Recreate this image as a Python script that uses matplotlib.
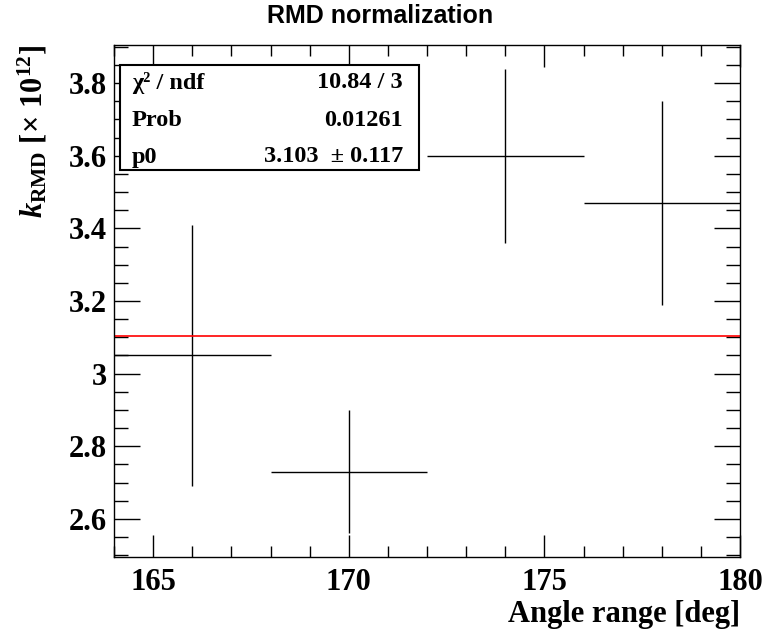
import matplotlib
matplotlib.use("Agg")
import matplotlib.pyplot as plt
from matplotlib.ticker import MultipleLocator

# data
angle = [166, 170, 174, 178]
angle_err = [2, 2, 2, 2]
k_rmd = [3.05, 2.73, 3.60, 3.47]
k_rmd_err = [0.36, 0.17, 0.24, 0.28]

fit_p0 = 3.103
fit_p0_err = 0.117
chi2_ndf = "10.84 / 3"
fit_prob = "0.01261"

x_range = (164, 180)
y_range = (2.495, 3.905)

plt.rcParams['mathtext.fontset'] = 'custom'
plt.rcParams['mathtext.rm'] = 'Liberation Serif:bold'
plt.rcParams['mathtext.it'] = 'Liberation Serif:italic:bold'
plt.rcParams['mathtext.bf'] = 'Liberation Serif:bold'

serif = 'Liberation Serif'

fig = plt.figure(figsize=(7.65, 6.3), dpi=100)
ax = fig.add_axes([114 / 765, 1 - 557 / 630, (740 - 114) / 765, (557 - 45) / 630])

ax.errorbar(angle, k_rmd, xerr=angle_err, yerr=k_rmd_err, fmt='none',
            ecolor='black', elinewidth=1.0, capsize=0)
ax.plot(x_range, [fit_p0, fit_p0], color='red', lw=1.2)

ax.set_xlim(*x_range)
ax.set_ylim(*y_range)

ax.xaxis.set_major_locator(MultipleLocator(5))
ax.xaxis.set_minor_locator(MultipleLocator(1))
ax.yaxis.set_major_locator(MultipleLocator(0.2))
ax.yaxis.set_minor_locator(MultipleLocator(0.05))
ax.yaxis.set_major_formatter(plt.FuncFormatter(lambda v, p: f"{v:.1f}".rstrip('0').rstrip('.')))

ax.tick_params(which='both', direction='in', top=True, right=True, width=1.0)
ax.tick_params(which='major', axis='y', length=19, pad=5)
ax.tick_params(which='minor', axis='y', length=10)
ax.tick_params(which='major', axis='x', length=16, pad=8)
ax.tick_params(which='minor', axis='x', length=8)
for lab in ax.get_xticklabels() + ax.get_yticklabels():
    lab.set_fontfamily(serif)
    lab.set_fontweight('bold')
    lab.set_fontsize(22)
for sp in ax.spines.values():
    sp.set_linewidth(1.0)

ax.set_xlabel('Angle range [deg]', fontfamily=serif, fontweight='bold',
              fontsize=22, loc='right', labelpad=2)
ax.set_ylabel(r'$k_{\rm RMD}\ [\times\ 10^{12}]$', fontsize=22, loc='top', labelpad=14)

fig.text(0.497, 0.975, 'RMD normalization', ha='center', va='center',
         fontfamily='Liberation Sans', fontweight='bold', fontsize=18)

# stats box
box = plt.Rectangle((120 / 765, 1 - 170 / 630), (419 - 120) / 765, (170 - 65) / 630,
                    transform=fig.transFigure, facecolor='white', edgecolor='black',
                    lw=1.5, zorder=5)
fig.add_artist(box)
rows = [('\u03c7\u00b2 / ndf', chi2_ndf),
        ('Prob', fit_prob),
        ('p0', f"{fit_p0:.3f}  \u00b1 {fit_p0_err:.3f}")]
for i, (left, right) in enumerate(rows):
    yy = 1 - (83 + 37 * i) / 630
    fig.text(132 / 765, yy, left, ha='left', va='center', fontfamily=serif,
             fontweight='bold', fontsize=17.5, zorder=6)
    fig.text(403 / 765, yy, right, ha='right', va='center', fontfamily=serif,
             fontweight='bold', fontsize=17.5, zorder=6)

fig.savefig('out.png', dpi=100)
